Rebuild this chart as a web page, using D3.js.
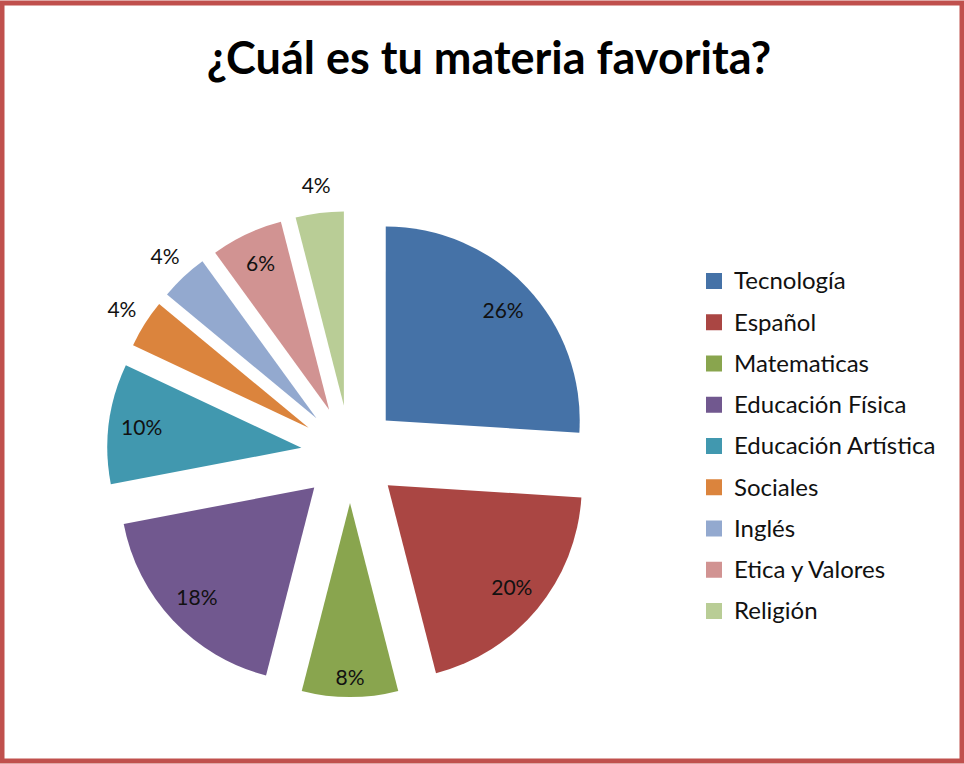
<!DOCTYPE html>
<html>
<head>
<meta charset="utf-8">
<script src="https://cdn.jsdelivr.net/npm/d3@7"></script>
<style>
  body { margin: 0; background: #fff; }
  svg { display: block; }
</style>
</head>
<body>
<svg id="chart1" width="964" height="764"></svg>
<script>
// data
var categories = ["Tecnología", "Español", "Matematicas", "Educación Física", "Educación Artística", "Sociales", "Inglés", "Etica y Valores", "Religión"];
var values = [26, 20, 8, 18, 10, 4, 4, 6, 4];
var colors = ["#4572A7", "#AA4643", "#89A54E", "#71588F", "#4198AF", "#DB843D", "#93A9CF", "#D19392", "#B9CD96"];
var title = "¿Cuál es tu materia favorita?";

var data = categories.map(function(c, i) { return {category: c, cost: values[i]}; });

var width = 964, height = 764;
var svg = d3.select("#chart1");

// frame
svg.append("rect")
    .attr("x", 2).attr("y", 3)
    .attr("width", width - 4).attr("height", height - 6)
    .attr("fill", "#fff")
    .attr("stroke", "#C0504D")
    .attr("stroke-width", 5);

svg.append("text")
    .attr("x", 489).attr("y", 74)
    .attr("text-anchor", "middle")
    .style("font-family", "Lato, 'Open Sans', sans-serif")
    .style("font-weight", "bold")
    .style("font-size", "45px")
    .attr("fill", "#000")
    .text(title);

//pie setup
var radius = 194, explode = 49;
var total = d3.sum(values);
var color = d3.scaleOrdinal().domain(categories).range(colors);
var arc = d3.arc().innerRadius(0).outerRadius(radius);
var pie = d3.pie()
    .sort(null)
    .value(function(d) { return d.cost; });

var g = svg.append("g")
    .attr("transform", "translate(350,454)");

var slices = g.selectAll("g.arc").data(pie(data))
    .enter().append("g")
    .attr("class", "arc")
    .attr("transform", function(d) {
        var a = (d.startAngle + d.endAngle) / 2;
        return "translate(" + (explode * Math.sin(a)) + "," + (-explode * Math.cos(a)) + ")";
    });

slices.append("path")
    .attr("d", arc)
    .attr("fill", function(d) { return color(d.data.category); });

// labels: inside for big slices, outside for the thin ones
slices.append("text")
    .attr("transform", function(d) {
        var a = (d.startAngle + d.endAngle) / 2;
        var r = d.data.cost <= 4 ? radius * 1.14 : radius * 0.83;
        if (d.data.cost === 8) r = radius * 0.9;
        return "translate(" + (r * Math.sin(a)) + "," + (-r * Math.cos(a)) + ")";
    })
    .attr("text-anchor", "middle")
    .attr("dy", "0.35em")
    .style("font-family", "Lato, 'Open Sans', sans-serif")
    .style("font-size", "21px")
    .attr("fill", "#111")
    .text(function(d) { return Math.round(d.data.cost / total * 100) + "%"; });

// legend
var legend = svg.append("g")
    .attr("transform", "translate(706,281)");
var rowH = 41.25;
var items = legend.selectAll("g.item").data(categories)
    .enter().append("g")
    .attr("class", "item")
    .attr("transform", function(d, i) { return "translate(0," + (i * rowH) + ")"; });
items.append("rect")
    .attr("x", 0).attr("y", -8)
    .attr("width", 16).attr("height", 16)
    .attr("fill", function(d) { return color(d); });
items.append("text")
    .attr("x", 28).attr("dy", "0.35em")
    .style("font-family", "Lato, 'Open Sans', sans-serif")
    .style("font-size", "24px")
    .attr("fill", "#111")
    .text(function(d) { return d; });
</script>
</body>
</html>
